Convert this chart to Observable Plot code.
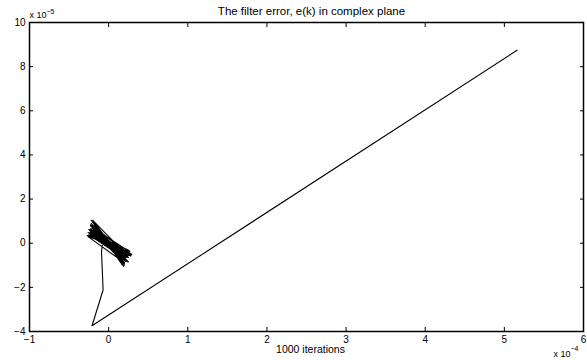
<!DOCTYPE html>
<html><head><meta charset="utf-8">
<script src="https://cdn.jsdelivr.net/npm/d3@7"></script>
<script src="https://cdn.jsdelivr.net/npm/@observablehq/plot@0.6"></script>
<style>
html,body{margin:0;padding:0;background:#fff;}
</style></head><body><div id="chart"></div>
<script>
const titleText = "The filter error, e(k) in complex plane";
const xLabelText = "1000 iterations";
const xTicks = [-1, 0, 1, 2, 3, 4, 5, 6];
const yTicks = [-4, -2, 0, 2, 4, 6, 8, 10];
const xMultiplier = "x 10";
const xExponent = "\u22124";
const yMultiplier = "x 10";
const yExponent = "\u22125";

// real part of e(k), in units of 1e-4
const errRe = [5.16, -0.21, -0.07, -0.09,
  -0.07, 0.14, -0.17, 0.22, -0.23, 0.17, -0.26, 0.28, -0.21, 0.26,
  -0.27, 0.29, -0.15, 0.20, -0.23, 0.24, -0.12, 0.24, -0.23, 0.19,
  -0.18, 0.25, -0.22, 0.20, -0.22, 0.19, -0.14, 0.17, -0.08, 0.15,
  -0.19, 0.24, -0.14, 0.13, -0.25, 0.25, -0.19, 0.28, -0.23, 0.17,
  -0.25, 0.27, -0.11, 0.23, -0.20, 0.21, -0.15, 0.24, -0.21, 0.17,
  -0.21, 0.22, -0.18, 0.20, -0.21, 0.15, -0.12, 0.21, -0.08, 0.12,
  -0.19, 0.23, -0.13, 0.25, -0.22, 0.23, -0.19, 0.29, -0.08, 0.12,
  -0.22, 0.19, -0.15, 0.20, -0.16, 0.15, -0.06, 0.09, -0.02,
  -0.18, 0.25, -0.15, 0.21, -0.24, 0.20, -0.25, 0.23, -0.20, 0.20,
  -0.19, 0.27, -0.23, 0.20, -0.26, 0.27, -0.16, 0.20, -0.20, 0.26,
  -0.19, 0.22, -0.21, 0.19, -0.21, 0.21, -0.14, 0.27, -0.23, 0.17,
  -0.25, 0.22, -0.23, 0.20, -0.12, 0.22, -0.10, 0.12, -0.05, 0.15,
  -0.17, 0.20, -0.24, 0.26, -0.02];
// imaginary part of e(k), in units of 1e-5
const errIm = [8.74, -3.74, -2.12, -0.38,
  0.19, -0.39, 0.43, -0.55, 0.49, -0.38, 0.48, -0.54, 0.33, -0.44,
  0.35, -0.52, 0.24, -0.35, 0.43, -0.46, 0.28, -0.58, 0.65, -0.53,
  0.62, -0.85, 0.89, -0.76, 1.04, -1.05, 0.71, -0.97, 0.35, -0.60,
  0.69, -0.84, 0.42, -0.40, 0.62, -0.65, 0.38, -0.58, 0.40, -0.32,
  0.36, -0.50, 0.19, -0.41, 0.43, -0.47, 0.41, -0.64, 0.67, -0.54,
  0.81, -0.82, 0.81, -1.00, 0.99, -0.74, 0.47, -0.81, 0.24, -0.38,
  0.51, -0.61, 0.29, -0.55, 0.35, -0.39, 0.24, -0.50, 0.15, -0.23,
  0.56, -0.49, 0.50, -0.68, 0.68, -0.60, 0.23, -0.33, 0.10,
  0.56, -0.50, 0.65, -0.62, 0.57, -0.69, 0.38, -0.54, 1.04, -0.88,
  0.48, -0.50, 0.80, -0.89, 0.30, -0.40, 0.60, -0.48, 0.42, -0.33,
  0.39, -0.65, 0.76, -0.91, 0.78, -0.65, 0.33, -0.52, 0.62, -0.44,
  0.47, -0.37, 0.83, -0.93, 0.26, -0.54, 0.29, -0.35, 0.20, -0.40,
  0.58, -0.70, 0.44, -0.55, 0.05];

const idx = errRe.map((_, i) => i);
const font = "'Liberation Sans', Arial, Helvetica, sans-serif";

const chart = Plot.plot({
  width: 587,
  height: 360,
  marginLeft: 29,
  marginRight: 4,
  marginTop: 22,
  marginBottom: 29,
  style: {fontFamily: font, fontSize: "10px", background: "#fff", color: "#000"},
  x: {domain: [-1, 6]},
  y: {domain: [-4, 10]},
  marks: [
    Plot.line(idx, {x: i => errRe[i], y: i => errIm[i], stroke: "#000", strokeWidth: 1.1}),
    Plot.axisX(xTicks, {anchor: "bottom", tickSize: -4, tickPadding: 8, label: null}),
    Plot.axisX(xTicks, {anchor: "top", tickSize: -4, tickFormat: () => "", label: null}),
    Plot.axisY(yTicks, {anchor: "left", tickSize: -4, tickPadding: 8, label: null}),
    Plot.axisY(yTicks, {anchor: "right", tickSize: -4, tickFormat: () => "", label: null}),
    Plot.frame({stroke: "#000", strokeWidth: 1.5}),
    Plot.text([titleText], {text: d => d, frameAnchor: "top", dx: 5, dy: -8, lineAnchor: "bottom", fontSize: 11.5, letterSpacing: "0.5px"}),
    Plot.text([xLabelText], {text: d => d, frameAnchor: "bottom", dx: 4, dy: 21, lineAnchor: "bottom", fontSize: 10.5, letterSpacing: "0.6px"}),
    Plot.text([yMultiplier], {text: d => d, frameAnchor: "top-left", textAnchor: "start", dx: 0, dy: -4.5, lineAnchor: "bottom", fontSize: 9}),
    Plot.text([yExponent], {text: d => d, frameAnchor: "top-left", textAnchor: "start", dx: 17, dy: -8.5, lineAnchor: "bottom", fontSize: 7}),
    Plot.text([xMultiplier], {text: d => d, frameAnchor: "bottom-right", textAnchor: "start", dx: -30, dy: 25.5, lineAnchor: "bottom", fontSize: 9}),
    Plot.text([xExponent], {text: d => d, frameAnchor: "bottom-right", textAnchor: "start", dx: -13, dy: 19, lineAnchor: "bottom", fontSize: 7})
  ]
});
document.getElementById("chart").appendChild(chart);
</script>
</body></html>
